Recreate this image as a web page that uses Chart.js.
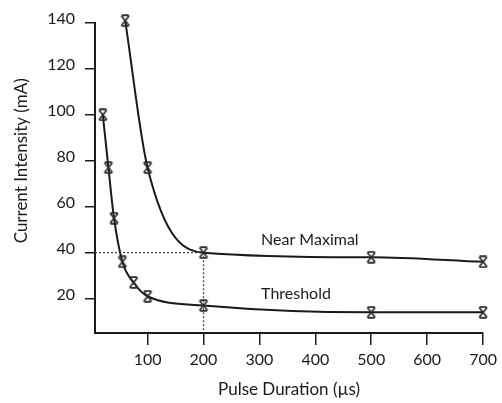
<!DOCTYPE html>
<html lang="en">
<head>
<meta charset="UTF-8">
<title>Current Intensity vs Pulse Duration</title>
<script src="https://cdn.jsdelivr.net/npm/chart.js"></script>
<style>
  body { margin: 0; background: #fff; }
  #chart { display: block; }
</style>
</head>
<body>
<canvas id="chart" width="502" height="403"></canvas>
<script>
// tick values
const xTicks = [100, 200, 300, 400, 500, 600, 700];
const yTicks = [20, 40, 60, 80, 100, 120, 140];

// series
const thresholdDur = [20, 30, 40, 55, 75, 100, 200, 500, 700];
const thresholdMA  = [100, 77, 55, 36, 27, 21, 17, 14, 14];

const nearMaxDur = [60, 100, 200, 500, 700];
const nearMaxMA  = [141, 77, 40, 38, 36];

// dotted guide at 40 mA / 200 us
const guideDur = [6, 200, 200];
const guideMA  = [40, 40, 5];

const seriesNames = ["Threshold", "Near Maximal"];
const yTitle = "Current Intensity (mA)";

const ink = "#1a1a1a";
const fontFamily = "Lato, 'Open Sans', sans-serif";

function toPoints(xs, ys) {
    return xs.map((x, i) => ({ x: x, y: ys[i] }));
}

// the little "x with caps" marker
function makeMarker() {
    let c = document.createElement("canvas");
    c.width = 12;
    c.height = 13;
    let g = c.getContext("2d");
    g.strokeStyle = "#2a2a2a";
    g.lineWidth = 1.7;
    g.beginPath();
    g.moveTo(2, 1.5); g.lineTo(10, 11.5);
    g.moveTo(10, 1.5); g.lineTo(2, 11.5);
    g.moveTo(2.5, 1.2); g.lineTo(9.5, 1.2);
    g.moveTo(2.5, 11.8); g.lineTo(9.5, 11.8);
    g.stroke();
    return c;
}
const marker = makeMarker();

// curve names next to the lines, and the y title (sits a bit above centre in the original)
const extraText = {
    id: "extraText",
    afterDraw(chart) {
        let ctx = chart.ctx;
        let xs = chart.scales.x, ys = chart.scales.y;
        ctx.save();
        ctx.fillStyle = ink;
        ctx.font = "16px " + fontFamily;
        ctx.textBaseline = "middle";
        ctx.textAlign = "left";
        ctx.fillText(seriesNames[1], xs.getPixelForValue(303), ys.getPixelForValue(45.5));
        ctx.fillText(seriesNames[0], xs.getPixelForValue(303), ys.getPixelForValue(22));

        ctx.font = "17px " + fontFamily;
        ctx.textAlign = "center";
        ctx.translate(22, ys.getPixelForValue(80));
        ctx.rotate(-Math.PI / 2);
        ctx.fillText(yTitle, 0, 0);
        ctx.restore();
    }
};

const axisLine = { display: true, color: ink, width: 2 };
const tickGrid = { display: true, drawOnChartArea: false, color: ink, lineWidth: 1.5 };

new Chart(document.getElementById("chart"), {
    type: "line",
    data: {
        datasets: [
            {
                label: seriesNames[0],
                data: toPoints(thresholdDur, thresholdMA),
                borderColor: ink,
                borderWidth: 2,
                pointStyle: marker,
                cubicInterpolationMode: "monotone",
                clip: false
            },
            {
                label: seriesNames[1],
                data: toPoints(nearMaxDur, nearMaxMA),
                borderColor: ink,
                borderWidth: 2,
                pointStyle: marker,
                cubicInterpolationMode: "monotone",
                clip: false
            },
            {
                label: "guide",
                data: toPoints(guideDur, guideMA),
                borderColor: "#444",
                borderWidth: 1.3,
                borderDash: [2, 2],
                pointRadius: 0,
                tension: 0
            }
        ]
    },
    options: {
        responsive: false,
        animation: false,
        layout: { padding: { top: 23, right: 14, left: 0, bottom: 0 } },
        plugins: {
            legend: { display: false },
            tooltip: { enabled: false }
        },
        scales: {
            x: {
                type: "linear",
                min: 6,
                max: 700,
                afterBuildTicks: a => { a.ticks = xTicks.map(v => ({ value: v })); },
                afterFit: a => { a.height = 70; },
                border: axisLine,
                grid: Object.assign({ tickLength: 12 }, tickGrid),
                ticks: { color: ink, padding: 5, font: { family: fontFamily, size: 16 }, maxRotation: 0 },
                title: {
                    display: true,
                    text: "Pulse Duration (µs)",
                    color: ink,
                    font: { family: fontFamily, size: 17 },
                    padding: { top: 0, bottom: 3 }
                }
            },
            y: {
                min: 5,
                max: 140,
                afterBuildTicks: a => { a.ticks = yTicks.map(v => ({ value: v })); },
                afterFit: a => { a.width = 95; },
                border: axisLine,
                grid: Object.assign({ tickLength: 10 }, tickGrid),
                ticks: { color: ink, padding: 10, labelOffset: -4, font: { family: fontFamily, size: 16 } }
            }
        }
    },
    plugins: [extraText]
});
</script>
</body>
</html>
